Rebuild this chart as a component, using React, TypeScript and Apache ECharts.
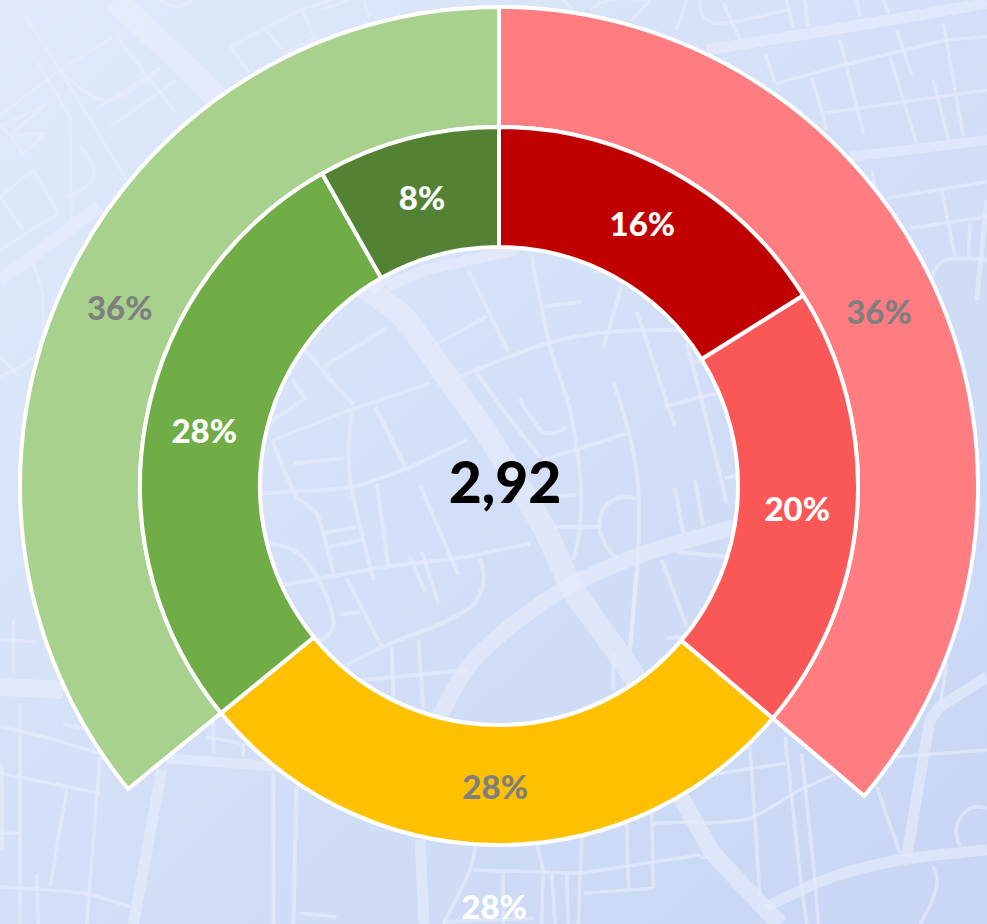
import React, { useEffect, useRef } from "react";
import * as echarts from "echarts";

const innerNames = ["Rot dunkel", "Rot", "Gelb", "Grün", "Grün dunkel"];
const innerValues = [16.1, 20.1, 27.9, 27.7, 8.2];
const innerLabels = ["16%", "20%", "28%", "28%", "8%"];
const innerColors = ["#C00000", "#FA5757", "#FFC000", "#70AD47", "#548235"];
const innerLabelColors = ["#FFFFFF", "#FFFFFF", "#7F7F7F", "#FFFFFF", "#FFFFFF"];
const innerLabelOffsets = [[-3, 1], [-3, 0], [-1, -2], [2, 0], [0, 3]];

const outerNames = ["Rot gesamt", "Gelb gesamt", "Grün gesamt"];
const outerValues = [36.2, 27.9, 35.9];
const outerLabels = ["36%", "28%", "36%"];
const outerColors = ["#FF7C80", "transparent", "#A9D18E"];
const outerLabelColors = ["#7F7F7F", "#FFFFFF", "#7F7F7F"];
const outerLabelOffsets = [[-3, 2], [-1, -2], [2, 2]];

const centerValue = "2,92";

// Decorative street map behind the chart: [region origin x, y, width, smooth, points in 3x crop units]
type Road = [number, number, number, number, number[][]];
const R = (o: number[], w: number, s: number, pts: number[][]): Road => [o[0], o[1], w, s, pts];
const Z0 = [0, 0], Z3 = [260, 250], Z4 = [680, 0], Z5 = [700, 620], Z6 = [0, 620], Z2 = [300, 640], Z7 = [500, 0];
const roads: Road[] = [
  // wide roads
  R(Z0, 24, 0, [[345, 0], [600, 240], [1150, 860]]),
  R(Z3, 23, 0.15, [[310, 110], [430, 200], [560, 380], [680, 550], [850, 830], [940, 1020], [1090, 1230], [1150, 1320]]),
  R(Z5, 17, 0.1, [[-80, 490], [40, 700], [180, 850], [240, 912]]),
  R(Z3, 16, 0.3, [[530, 1420], [640, 1230], [890, 1030], [1100, 930], [1250, 880], [1430, 830]]),
  R(Z3, 11, 0.2, [[380, 110], [500, 60], [770, 0]]),
  R(Z4, 11, 0, [[80, 150], [450, 90], [921, 10]]),
  R(Z4, 10, 0, [[510, 470], [921, 420]]),
  R(Z5, 11, 0.3, [[200, 860], [400, 770], [600, 720], [861, 690]]),
  R(Z5, 11, 0.05, [[620, 710], [690, 300], [720, 260], [861, 170]]),
  R(Z6, 18, 0, [[0, 200], [190, 210]]),
  R(Z6, 10, 0, [[500, 415], [830, 440]]),
  R(Z6, 11, 0.1, [[485, 450], [400, 912]]),
  R(Z0, 13, 0, [[0, 840], [300, 620]]),
  // upper left
  R(Z0, 3, 0, [[70, 40], [180, 210], [380, 540]]),
  R(Z0, 3, 0, [[100, 165], [210, 350], [215, 660]]),
  R(Z0, 3, 0, [[0, 345], [180, 210], [380, 85]]),
  R(Z0, 3, 0.4, [[180, 210], [320, 300], [480, 205]]),
  R(Z0, 3, 0, [[285, 330], [480, 205]]),
  R(Z0, 3, 0, [[330, 380], [530, 240]]),
  R(Z0, 3, 0, [[350, 110], [525, 335]]),
  R(Z0, 3, 0, [[0, 380], [135, 315], [30, 405]]),
  R(Z0, 3, 0, [[30, 405], [135, 400], [70, 460], [0, 370]]),
  R(Z0, 3, 0, [[0, 590], [100, 510], [175, 640], [0, 750]]),
  R(Z0, 3, 0, [[0, 590], [70, 690]]),
  R(Z0, 3, 0.5, [[240, 440], [280, 530], [200, 590]]),
  R(Z0, 3, 0, [[690, 140], [910, 25], [1000, 0]]),
  R(Z0, 3, 0, [[690, 140], [750, 220]]),
  R(Z0, 3, 0, [[800, 90], [855, 160], [945, 115], [905, 30]]),
  R(Z0, 3, 0, [[960, 30], [1050, 0]]),
  R(Z0, 3, 0, [[1090, 0], [1110, 60]]),
  R(Z0, 3, 0.4, [[480, 0], [530, 20], [580, 0]]),
  R(Z0, 3, 0.3, [[100, 790], [130, 900], [110, 1060], [0, 1130]]),
  R(Z0, 3, 0, [[0, 1070], [60, 1130]]),
  // top, right of centre
  R(Z7, 3, 0, [[190, 0], [220, 30]]),
  R(Z7, 3, 0.4, [[270, 30], [330, 0], [440, 0]]),
  R(Z7, 3, 0, [[395, 60], [450, 0]]),
  R(Z7, 3, 0, [[530, 90], [560, 0]]),
  // inside the hole
  R(Z3, 4, 0, [[190, 350], [380, 235]]),
  R(Z3, 4, 0, [[130, 295], [280, 465]]),
  R(Z3, 4, 0, [[10, 530], [135, 445], [95, 385]]),
  R(Z3, 4, 0, [[40, 570], [270, 480], [510, 400]]),
  R(Z3, 4, 0.3, [[600, 380], [860, 280], [1050, 245], [1250, 240]]),
  R(Z3, 4, 0, [[525, 285], [680, 200]]),
  R(Z3, 4, 0, [[625, 60], [745, 305]]),
  R(Z3, 4, 0.3, [[815, 20], [870, 290], [930, 480], [960, 680], [960, 830], [940, 930]]),
  R(Z3, 4, 0, [[850, 170], [965, 155]]),
  R(Z3, 4, 0, [[1085, 105], [1030, 295]]),
  R(Z3, 4, 0, [[1130, 185], [1245, 530]]),
  R(Z3, 4, 0.3, [[1060, 395], [1110, 560], [1135, 720], [1135, 900], [1110, 1200]]),
  R(Z3, 4, 0, [[1215, 470], [1370, 430]]),
  R(Z3, 4, 0, [[1280, 280], [1330, 470], [1400, 760]]),
  R(Z3, 4, 0, [[1290, 335], [1330, 335]]),
  R(Z3, 4, 0, [[650, 370], [760, 520], [840, 620]]),
  R(Z3, 4, 0.6, [[780, 445], [830, 525], [870, 550], [920, 530]]),
  R(Z3, 4, 0, [[850, 630], [1100, 550]]),
  R(Z3, 4, 0, [[345, 470], [435, 650]]),
  R(Z3, 4, 0.2, [[35, 570], [110, 740], [170, 790], [220, 970]]),
  R(Z3, 4, 0, [[100, 640], [255, 625]]),
  R(Z3, 4, 0.2, [[0, 730], [280, 710], [440, 655], [620, 570]]),
  R(Z3, 4, 0.2, [[275, 490], [265, 600], [275, 720], [340, 990]]),
  R(Z3, 4, 0, [[350, 700], [385, 950]]),
  R(Z3, 4, 0, [[190, 850], [290, 830]]),
  R(Z3, 4, 0, [[205, 890], [310, 870]]),
  R(Z3, 4, 0.2, [[70, 1005], [380, 950], [620, 920], [810, 880]]),
  R(Z3, 4, 0, [[480, 705], [595, 975]]),
  R(Z3, 4, 0, [[450, 920], [495, 1025]]),
  R(Z3, 4, 0, [[485, 905], [535, 1060]]),
  R(Z3, 4, 0.4, [[660, 925], [670, 1000], [620, 1080], [370, 1190], [260, 1245]]),
  R(Z3, 4, 0, [[260, 985], [365, 1190]]),
  R(Z3, 4, 0.4, [[20, 880], [100, 900], [170, 980], [220, 1110], [200, 1160], [150, 1170]]),
  R(Z3, 4, 0, [[240, 1095], [300, 1085]]),
  R(Z3, 4, 0, [[395, 1190], [400, 1340]]),
  R(Z3, 4, 0, [[475, 1170], [490, 1380]]),
  R(Z3, 4, 0, [[310, 1290], [620, 1260]]),
  R(Z3, 4, 0, [[1245, 715], [1270, 850]]),
  R(Z3, 4, 0, [[1305, 690], [1330, 830]]),
  R(Z3, 4, 0, [[880, 740], [950, 735]]),
  R(Z3, 4, 0, [[880, 830], [1020, 830]]),
  R(Z3, 4, 0.5, [[1130, 745], [1060, 750], [1020, 810], [1040, 890], [1075, 925]]),
  R(Z3, 4, 0, [[1205, 930], [1280, 1130]]),
  R(Z3, 4, 0, [[1130, 960], [1110, 1190]]),
  R(Z3, 4, 0, [[1060, 1210], [1060, 1320]]),
  R(Z3, 4, 0, [[1220, 1165], [1270, 1160]]),
  R(Z3, 4, 0, [[1250, 905], [1400, 920]]),
  R(Z3, 4, 0, [[1395, 685], [1430, 675]]),
  R(Z3, 4, 0, [[1000, 65], [1060, 60]]),
  // upper right
  R(Z4, 3.5, 0, [[130, 10], [180, 120]]),
  R(Z4, 3.5, 0.4, [[60, 0], [70, 50], [120, 70], [320, 30]]),
  R(Z4, 3.5, 0, [[320, 0], [340, 85]]),
  R(Z4, 3.5, 0, [[375, 0], [385, 80]]),
  R(Z4, 3.5, 0, [[530, 0], [540, 50]]),
  R(Z4, 3.5, 0, [[610, 0], [625, 40]]),
  R(Z4, 3.5, 0, [[255, 160], [285, 250]]),
  R(Z4, 3.5, 0, [[290, 250], [490, 195], [800, 120], [921, 110]]),
  R(Z4, 3.5, 0, [[480, 120], [550, 400]]),
  R(Z4, 3.5, 0, [[395, 230], [440, 390]]),
  R(Z4, 3.5, 0, [[630, 170], [710, 430]]),
  R(Z4, 3.5, 0, [[650, 90], [695, 225]]),
  R(Z4, 3.5, 0, [[790, 70], [850, 410]]),
  R(Z4, 3.5, 0, [[760, 240], [805, 420]]),
  R(Z4, 3.5, 0, [[430, 340], [921, 270]]),
  R(Z4, 3.5, 0, [[575, 510], [585, 560]]),
  R(Z4, 3.5, 0, [[620, 595], [921, 545]]),
  R(Z4, 3.5, 0, [[690, 685], [921, 650]]),
  R(Z4, 3.5, 0, [[785, 570], [825, 770]]),
  R(Z4, 3.5, 0, [[870, 670], [865, 770]]),
  R(Z4, 3.5, 0.4, [[750, 850], [780, 790], [850, 775], [921, 780]]),
  R(Z4, 5, 0, [[921, 600], [890, 900]]),
  // lower right
  R(Z5, 3.5, 0, [[255, 350], [300, 760], [320, 912]]),
  R(Z5, 3.5, 0, [[305, 400], [345, 780], [355, 912]]),
  R(Z5, 3.5, 0, [[150, 380], [180, 830]]),
  R(Z5, 3.5, 0, [[30, 465], [255, 430]]),
  R(Z5, 3.5, 0.2, [[0, 610], [150, 595], [300, 510], [400, 465]]),
  R(Z5, 3.5, 0, [[530, 500], [600, 700]]),
  R(Z5, 3.5, 0, [[590, 410], [861, 390]]),
  R(Z5, 3.5, 0.4, [[700, 740], [710, 800], [660, 912]]),
  R(Z5, 3.5, 0.4, [[780, 680], [770, 620], [810, 565], [861, 565]]),
  R(Z5, 3.5, 0, [[0, 712], [25, 712]]),
  R(Z5, 3.5, 0, [[740, 130], [720, 260]]),
  // lower left
  R(Z6, 3.5, 0, [[0, 60], [110, 65]]),
  R(Z6, 3.5, 0, [[40, 0], [40, 160]]),
  R(Z6, 3.5, 0, [[60, 250], [60, 912]]),
  R(Z6, 3.5, 0.2, [[0, 320], [130, 350], [300, 400]]),
  R(Z6, 3.5, 0, [[0, 460], [300, 520]]),
  R(Z6, 3.5, 0, [[300, 410], [260, 912]]),
  R(Z6, 3.5, 0, [[200, 510], [150, 800]]),
  R(Z6, 3.5, 0.2, [[0, 800], [250, 820], [390, 860]]),
  R(Z6, 3.5, 0, [[5, 430], [5, 690]]),
  R(Z6, 3.5, 0, [[0, 640], [60, 640]]),
  R(Z6, 3.5, 0, [[110, 760], [115, 912]]),
  R(Z6, 4, 0, [[820, 460], [820, 912]]),
  R(Z6, 4, 0, [[890, 500], [880, 912]]),
  R(Z6, 3.5, 0, [[190, 315], [290, 330]]),
  R(Z6, 3.5, 0, [[640, 300], [640, 400]]),
  R(Z6, 3.5, 0, [[730, 370], [730, 410]]),
  R(Z6, 3.5, 0, [[620, 350], [720, 370]]),
  // below the yellow slice
  R(Z2, 11, 0, [[360, 600], [372, 852]]),
  R(Z2, 3.5, 0.3, [[525, 620], [510, 690], [430, 852]]),
  R(Z2, 3.5, 0, [[710, 610], [730, 690], [725, 852]]),
  R(Z2, 3.5, 0, [[520, 690], [840, 700], [1200, 645]]),
  R(Z2, 3.5, 0, [[610, 700], [610, 852]]),
  R(Z2, 3.5, 0, [[755, 700], [765, 852]]),
  R(Z2, 3.5, 0, [[800, 700], [805, 852]]),
  R(Z2, 3.5, 0, [[845, 590], [835, 852]]),
  R(Z2, 3.5, 0, [[980, 550], [985, 745]]),
  R(Z2, 3.5, 0, [[1055, 520], [1060, 745]]),
  R(Z2, 3.5, 0, [[850, 760], [1060, 745]]),
  R(Z2, 3.5, 0, [[1060, 550], [1200, 545]]),
  R(Z2, 3.5, 0, [[0, 820], [110, 830]]),
  R(Z2, 3.5, 0, [[430, 845], [700, 835]]),
];

const FONT = "Lato, Carlito, 'Open Sans', sans-serif";

const labelFor = (text: string, color: string, offset: number[]) => ({
  show: true,
  position: "inside",
  formatter: text,
  color,
  fontFamily: FONT,
  fontWeight: 900,
  fontSize: 33,
  lineHeight: 30,
  offset,
  textBorderWidth: 0,
});

const itemFor = (color: string) => ({
  color,
  borderColor: color === "transparent" ? "transparent" : "#FFFFFF",
  borderWidth: color === "transparent" ? 0 : 4,
});

export default function App() {
  const ref = useRef<HTMLDivElement>(null);

  useEffect(() => {
    if (!ref.current) return;
    document.body.style.margin = "0";
    document.body.style.overflow = "hidden";
    const chart = echarts.init(ref.current, undefined, { renderer: "svg" });
    const centre = ["499px", "486px"];
    const common = {
      type: "pie",
      center: centre,
      startAngle: 90,
      clockwise: true,
      silent: true,
      avoidLabelOverlap: false,
      labelLine: { show: false },
      emphasis: { disabled: true },
    };
    chart.setOption({
      animation: false,
      backgroundColor: {
        type: "linear",
        x: 0,
        y: 0,
        x2: 1,
        y2: 1,
        colorStops: [
          { offset: 0, color: "#E0EAFB" },
          { offset: 0.5, color: "#D3DFF7" },
          { offset: 1, color: "#C8D6F4" },
        ],
      },
      tooltip: { show: false },
      legend: { show: false },
      graphic: [
        ...roads.map(([ox, oy, w, s, pts]) => ({
          type: "polyline",
          silent: true,
          z: 0,
          shape: {
            points: pts.map(([x, y]) => [ox + x / 3, oy + y / 3]),
            smooth: s,
          },
          style: {
            stroke: "rgba(232,237,252,0.6)",
            lineWidth: w,
            fill: "none",
            lineJoin: "round",
          },
        })),
        {
          type: "text",
          silent: true,
          z: 10,
          x: 505,
          y: 481,
          style: {
            text: centerValue,
            fill: "#000000",
            font: `900 57px ${FONT}`,
            textAlign: "center",
            textVerticalAlign: "middle",
          },
        },
      ],
      series: [
        {
          ...common,
          name: "Gesamt",
          radius: [359, 479],
          data: outerValues.map((value, i) => ({
            name: outerNames[i],
            value,
            itemStyle: itemFor(outerColors[i]),
            label: labelFor(outerLabels[i], outerLabelColors[i], outerLabelOffsets[i]),
          })),
        },
        {
          ...common,
          name: "Detail",
          radius: [239, 359],
          data: innerValues.map((value, i) => ({
            name: innerNames[i],
            value,
            itemStyle: itemFor(innerColors[i]),
            label: labelFor(innerLabels[i], innerLabelColors[i], innerLabelOffsets[i]),
          })),
        },
      ],
    });
    return () => chart.dispose();
  }, []);

  return <div ref={ref} style={{ width: 987, height: 924, overflow: "hidden" }} />;
}
